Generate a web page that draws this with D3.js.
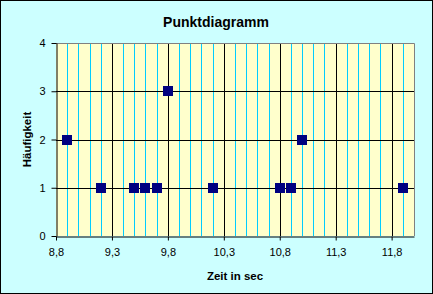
<!DOCTYPE html>
<html lang="de">
<head>
<meta charset="UTF-8">
<title>Punktdiagramm</title>
<script src="https://cdn.jsdelivr.net/npm/d3@7"></script>
<style>
  body { margin: 0; }
  svg { display: block; font-family: "Liberation Sans", Arial, sans-serif; }
</style>
</head>
<body>
<svg width="433" height="294"></svg>
<script>
// Messwerte: Zeit in sec und Häufigkeit
var zeiten = [8.9, 9.2, 9.5, 9.6, 9.7, 9.8, 10.2, 10.8, 10.9, 11.0, 11.9]
var haeufigkeit = [2, 1, 1, 1, 1, 3, 1, 1, 1, 2, 1]
var xTicks = [8.8, 9.3, 9.8, 10.3, 10.8, 11.3, 11.8]
var yTicks = [0, 1, 2, 3, 4]

var svg = d3.select('svg')
var W = +svg.attr('width'), H = +svg.attr('height')
// Ränder der Zeichenfläche (nicht "top" nennen, das ist window.top)
var pL = 56, pR = 414, pT = 43, pB = 236

// Hintergrund + Rahmen
svg.append('rect').attr('x', 0.5).attr('y', 0.5).attr('width', W - 1).attr('height', H - 1)
    .attr('fill', '#ccffff').attr('stroke', '#000')

var x = d3.scaleLinear().domain([8.8, 12.0]).range([pL, pR])
var y = d3.scaleLinear().domain([0, 4]).range([pB, pT])

// Zeichenfläche
svg.append('rect').attr('x', pL).attr('y', pT).attr('width', pR - pL).attr('height', pB - pT)
    .attr('fill', '#ffffcc')

// Hilfslinien (0,1) cyan
var minor = d3.range(89, 120).map(function (d) { return d / 10 })
    .filter(function (d) { return Math.round((d - 8.8) * 10) % 5 !== 0 })
svg.append('g').selectAll('line').data(minor).enter().append('line')
    .attr('x1', function (d) { return Math.round(x(d)) + 0.5 })
    .attr('x2', function (d) { return Math.round(x(d)) + 0.5 })
    .attr('y1', pT).attr('y2', pB)
    .attr('stroke', '#00ccff').attr('stroke-width', 1)

// Hauptgitternetz schwarz
svg.append('g').selectAll('line').data(xTicks.slice(1)).enter().append('line')
    .attr('x1', function (d) { return Math.round(x(d)) + 0.5 })
    .attr('x2', function (d) { return Math.round(x(d)) + 0.5 })
    .attr('y1', pT).attr('y2', pB)
    .attr('stroke', '#000')
svg.append('g').selectAll('line').data(yTicks.slice(1, -1)).enter().append('line')
    .attr('y1', function (d) { return Math.round(y(d)) + 0.5 })
    .attr('y2', function (d) { return Math.round(y(d)) + 0.5 })
    .attr('x1', pL).attr('x2', pR)
    .attr('stroke', '#000')

// grauer Rahmen oben/rechts
svg.append('path')
    .attr('d', 'M' + pL + ',' + (pT + 0.5) + 'H' + (pR + 0.5) + 'V' + pB)
    .attr('fill', 'none').attr('stroke', '#808080')

// Achsen
var fmt = function (d) { return d3.format('.1f')(d).replace('.', ',') }
var axisX = d3.axisBottom(x).tickValues(xTicks).tickFormat(fmt).tickSize(4).tickSizeOuter(0).tickPadding(8)
var axisY = d3.axisLeft(y).tickValues(yTicks).tickFormat(d3.format('d')).tickSize(5).tickSizeOuter(0).tickPadding(6)
var gx = svg.append('g').attr('transform', 'translate(0,' + (pB + 0.5) + ')').call(axisX)
var gy = svg.append('g').attr('transform', 'translate(' + (pL + 0.5) + ',0)').call(axisY)
svg.selectAll('.domain').attr('stroke', '#000')
svg.selectAll('.tick line').attr('stroke', '#000')
svg.selectAll('.tick text').attr('font-size', 11).attr('fill', '#000')
    .attr('font-family', '"Liberation Sans", Arial, sans-serif')

// Punkte
var pts = zeiten.map(function (z, i) { return [z, haeufigkeit[i]] })
svg.append('g').selectAll('rect').data(pts).enter().append('rect')
    .attr('x', function (d) { return Math.round(x(d[0])) - 5 })
    .attr('y', function (d) { return Math.round(y(d[1])) - 5 })
    .attr('width', 10).attr('height', 10)
    .attr('fill', '#000080')

// Beschriftung
svg.append('text').attr('x', 216).attr('y', 27).attr('text-anchor', 'middle')
    .attr('font-size', 14).attr('font-weight', 'bold').text('Punktdiagramm')
svg.append('text').attr('x', 235).attr('y', 280).attr('text-anchor', 'middle')
    .attr('font-size', 11.5).attr('font-weight', 'bold').text('Zeit in sec')
svg.append('text').attr('transform', 'translate(31,' + ((pT + pB) / 2) + ') rotate(-90)')
    .attr('text-anchor', 'middle').attr('font-size', 11.5).attr('font-weight', 'bold').text('Häufigkeit')
</script>
</body>
</html>
